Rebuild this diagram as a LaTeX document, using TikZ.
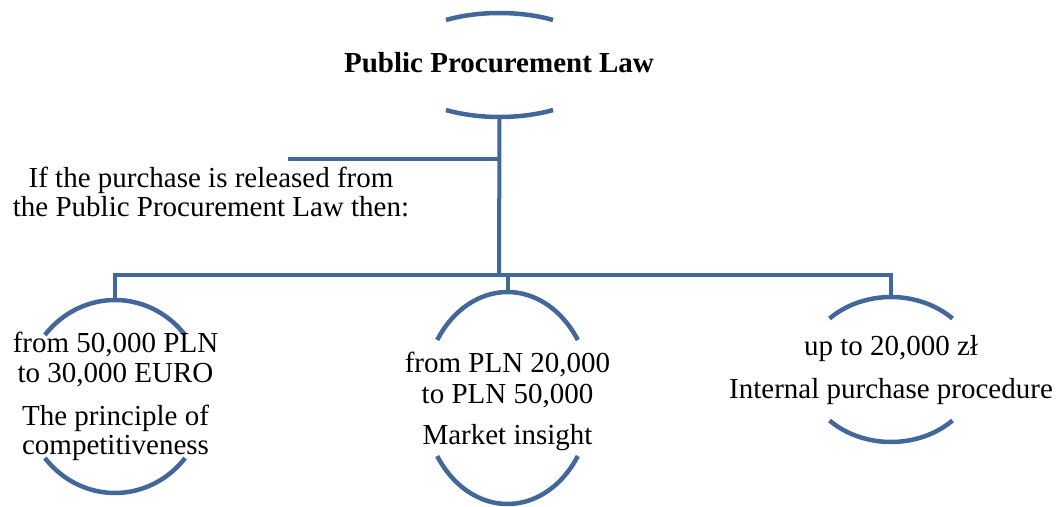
\documentclass[tikz,border=0pt]{standalone}
\usepackage{fontspec}
\setmainfont{Liberation Serif}
\usetikzlibrary{shapes.geometric}
\definecolor{linkblue}{RGB}{66,104,155}
\tikzset{
  conn/.style={draw=linkblue, line width=4pt},
  arcline/.style={draw=linkblue, line width=4.5pt},
  holder/.style={ellipse, draw=none, inner sep=0pt},
  txt/.style={anchor=base, inner sep=0pt, font=\fontsize{29}{30}\selectfont},
  txtb/.style={txt, font=\fontsize{29}{30}\selectfont\bfseries},
}
\begin{document}
\begin{tikzpicture}[x=1pt,y=-1pt]
\useasboundingbox (0,0) rectangle (1062,506);
% holder shapes
\node[holder, minimum width=214pt, minimum height=104pt] (top) at (499.5,65) {};
\node[holder, minimum width=182pt, minimum height=193pt] (L) at (115,396.5) {};
\node[holder, minimum width=168pt, minimum height=212pt] (M) at (507.5,398) {};
\node[holder, minimum width=173pt, minimum height=145pt] (R) at (891,369.5) {};
% arcs
\draw[arcline] (top.center) ++(240:107 and 52) arc[start angle=240, end angle=300, x radius=107, y radius=52];
\draw[arcline] (top.center) ++(60:107 and 52) arc[start angle=60, end angle=120, x radius=107, y radius=52];
\draw[arcline] (L.center) ++(219.6:91 and 96.5) arc[start angle=219.6, end angle=320.4, x radius=91, y radius=96.5];
\draw[arcline] (L.center) ++(39.6:91 and 96.5) arc[start angle=39.6, end angle=140.4, x radius=91, y radius=96.5];
\draw[arcline] (M.center) ++(213.2:84 and 106) arc[start angle=213.2, end angle=326.8, x radius=84, y radius=106];
\draw[arcline] (M.center) ++(33.2:84 and 106) arc[start angle=33.2, end angle=146.8, x radius=84, y radius=106];
\draw[arcline] (R.center) ++(224.7:86.5 and 72.5) arc[start angle=224.7, end angle=315.3, x radius=86.5, y radius=72.5];
\draw[arcline] (R.center) ++(44.7:86.5 and 72.5) arc[start angle=44.7, end angle=135.3, x radius=86.5, y radius=72.5];
% connectors
\coordinate (stub) at (288,159);
\coordinate (j) at (499,275);
\draw[conn] (top.south) -- (j);
\draw[conn] (stub) -- (top.south |- stub);
\draw[conn] (L.north) |- (j) -| (R.north);
\draw[conn] (M.north) -- (M.north |- j);
% texts
\node[txtb] (t0) at (499,72) {Public Procurement Law};
\node[txt] (s1) at (211,187) {If the purchase is released from};
\node[txt] (s2) at (211,216) {the Public Procurement Law then:};
\node[txt] (l1) at (115.5,352) {from 50,000 PLN};
\node[txt] (l2) at (115.5,382) {to 30,000 EURO};
\node[txt] (l3) at (115.5,425) {The principle of};
\node[txt] (l4) at (115.5,454) {competitiveness};
\node[txt] (m1) at (507.5,372) {from PLN 20,000};
\node[txt] (m2) at (507.5,403) {to PLN 50,000};
\node[txt] (m3) at (507.5,444) {Market insight};
\node[txt] (r1) at (891,355) {up to 20,000 zł};
\node[txt] (r2) at (891,398) {Internal purchase procedure};
\end{tikzpicture}
\end{document}
